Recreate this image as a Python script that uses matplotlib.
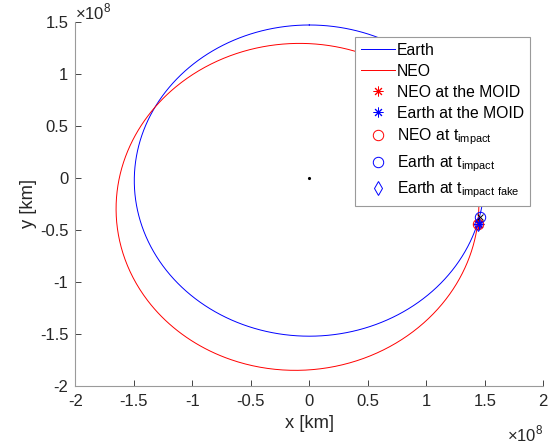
import numpy as np
import matplotlib
matplotlib.use("Agg")
import matplotlib.pyplot as plt
from matplotlib.ticker import FuncFormatter

plt.rcParams['font.family'] = 'Liberation Sans'
plt.rcParams['mathtext.fontset'] = 'custom'
plt.rcParams['mathtext.rm'] = 'Liberation Sans'

# orbital elements [semi-major axis km, eccentricity, arg. of perihelion deg]
earth_elems = [1.496e8, 0.0167, 90.0]
neo_elems = [1.575e8, 0.1876, 70.0]

# points (km)
neo_moid = [1.439e8, -0.445e8]
earth_moid = [1.449e8, -0.440e8]
neo_impact = [1.439e8, -0.445e8]
earth_impact = [1.459e8, -0.372e8]
earth_impact_fake = [1.443e8, -0.447e8]
sun = [0.0, 0.0]

xticks = [-2e8, -1.5e8, -1e8, -0.5e8, 0, 0.5e8, 1e8, 1.5e8, 2e8]
yticks = [-2e8, -1.5e8, -1e8, -0.5e8, 0, 0.5e8, 1e8, 1.5e8]


def orbit(el):
    a, e, w = el
    nu = np.linspace(0, 2 * np.pi, 721)
    r = a * (1 - e**2) / (1 + e * np.cos(nu))
    return r * np.cos(nu + np.radians(w)), r * np.sin(nu + np.radians(w))


fig = plt.figure(figsize=(5.52, 4.44), dpi=100)
ax = fig.add_axes([0.1364, 0.1306, 0.8478, 0.8199])

star = (8, 2, 0)
blue = '#0000ff'
red = '#ff0000'
xe, ye = orbit(earth_elems)
xn, yn = orbit(neo_elems)
ax.plot(xe, ye, color=blue, lw=0.7, label='Earth')
ax.plot(xn, yn, color=red, lw=0.7, label='NEO')
ax.plot(*neo_moid, marker=star, color=red, ms=7, mew=0.7, ls='none', label='NEO at the MOID')
ax.plot(*earth_moid, marker=star, color=blue, ms=7, mew=0.7, ls='none', label='Earth at the MOID')
ax.plot(*neo_impact, 'o', mfc='none', mec=red, ms=7.5, mew=0.7, ls='none',
        label=r'NEO at t$_{\mathrm{impact}}$')
ax.plot(*earth_impact, 'o', mfc='none', mec=blue, ms=7.5, mew=0.7, ls='none',
        label=r'Earth at t$_{\mathrm{impact}}$')
ax.plot(*earth_impact_fake, 'd', mfc='none', mec=blue, ms=7, mew=0.7, ls='none',
        label=r'Earth at t$_{\mathrm{impact\ fake}}$')
ax.plot(*earth_impact, 'x', color='black', ms=5, mew=0.7)
ax.plot(*sun, '.', color='black', ms=2.5)

ax.set_xlim(-2e8, 2e8)
ax.set_ylim(-2e8, 1.5e8)
ax.set_xticks(xticks)
ax.set_yticks(yticks)
fmt = FuncFormatter(lambda v, p: ('%g' % (v / 1e8)))
ax.xaxis.set_major_formatter(fmt)
ax.yaxis.set_major_formatter(fmt)
ax.tick_params(direction='in', length=4, width=0.6, color='#262626', labelsize=12,
               labelcolor='#262626')
ax.tick_params(axis='x', pad=6)
ax.tick_params(axis='y', pad=5)

for s in ['top', 'right']:
    ax.spines[s].set_visible(False)
for s in ['left', 'bottom']:
    ax.spines[s].set_color('#9a9a9a')
    ax.spines[s].set_linewidth(0.8)

ax.set_xlabel('x [km]', fontsize=13.2, labelpad=4, color='#262626')
ax.set_ylabel('y [km]', fontsize=13.2, labelpad=2, color='#262626')
ax.text(0.0, 1.0, r'$\times$10$^{8}$', transform=ax.transAxes, fontsize=12, va='bottom', ha='left', color='#262626')
ax.text(1.0, -0.105, r'$\times$10$^{8}$', transform=ax.transAxes, fontsize=12, va='top', ha='right', color='#262626')

leg = ax.legend(loc='upper right', bbox_to_anchor=(0.9716, 0.959), borderaxespad=0,
                fontsize=11.3, handlelength=2.15, handletextpad=0.15, labelspacing=0.38,
                borderpad=0.38, fancybox=False, framealpha=1, edgecolor='#9a9a9a')
leg.get_frame().set_linewidth(0.8)

fig.savefig('out.png', dpi=100)
